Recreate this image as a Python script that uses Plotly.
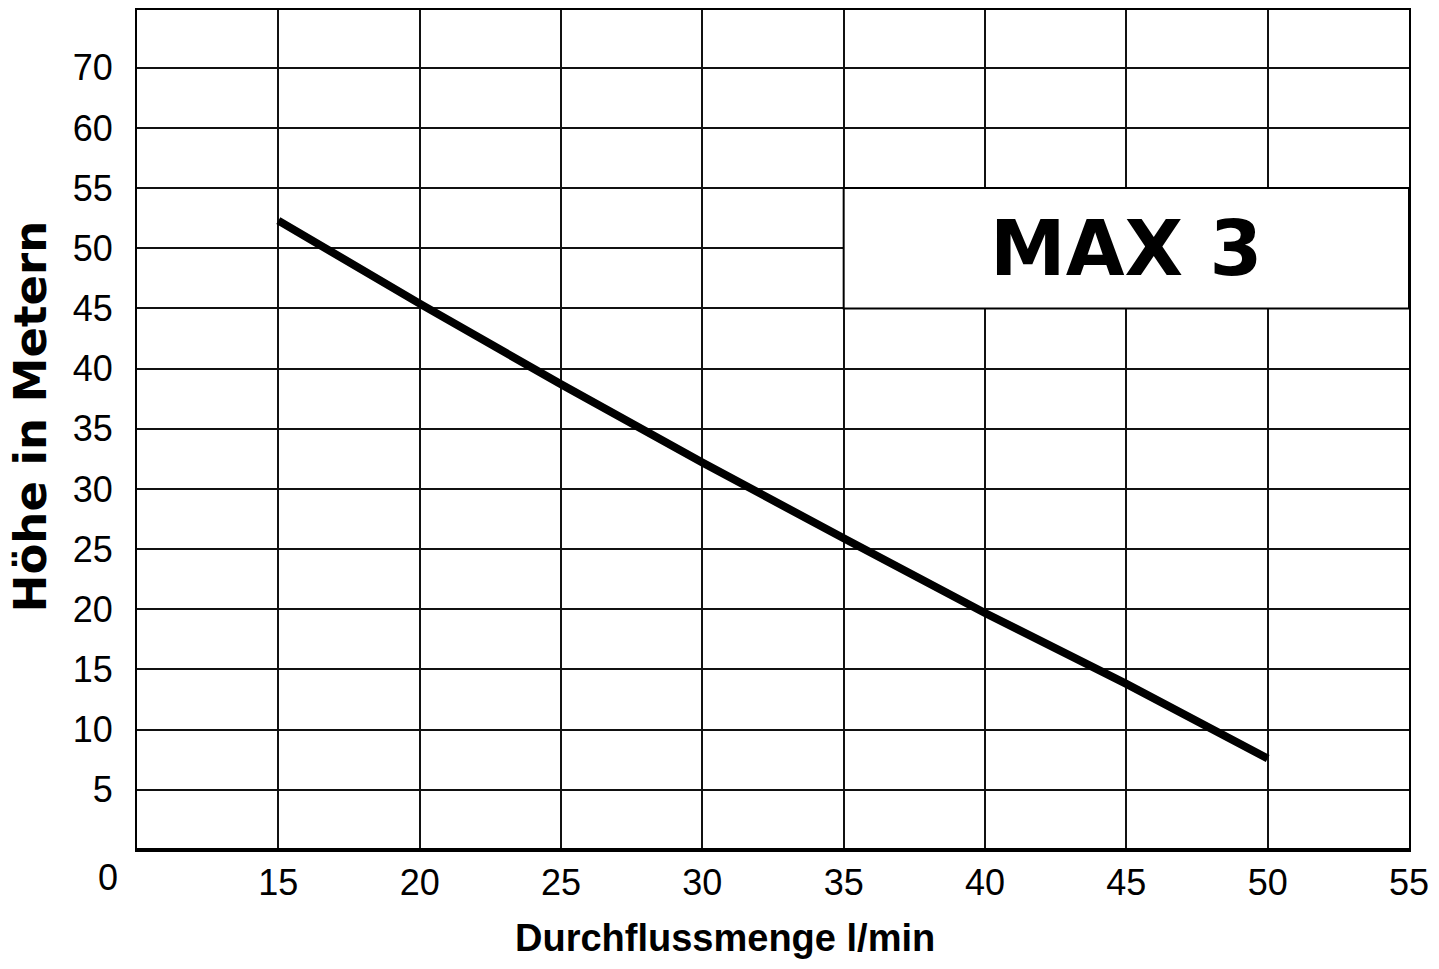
import plotly.graph_objects as go

# Data
flow_lpm = [15, 20, 25, 30, 35, 40, 45, 50]
head_m = [52.3, 45.4, 38.7, 32.2, 25.9, 19.7, 13.8, 7.6]

x_tick_vals = [15, 20, 25, 30, 35, 40, 45, 50, 55]
x_tick_text = ["15", "20", "25", "30", "35", "40", "45", "50", "55"]
y_tick_vals = [5, 10, 15, 20, 25, 30, 35, 40, 45, 50, 55, 60, 65]
y_tick_text = ["5", "10", "15", "20", "25", "30", "35", "40", "45", "50", "55", "60", "70"]

model_label = "MAX 3"
x_title = "Durchflussmenge l/min"
y_title = "Höhe in Metern"
origin_label = "0"

# label box extent (data units)
box_x = [35, 55]
box_y = [45, 55]

fig = go.Figure()
fig.add_trace(go.Scatter(
    x=flow_lpm, y=head_m, mode="lines",
    line=dict(color="black", width=8),
    hoverinfo="x+y", showlegend=False,
))

tick_font = dict(family="Liberation Sans, Arial, sans-serif", size=36, color="black")

fig.update_layout(
    width=1431, height=961,
    margin=dict(l=129, r=30, t=0, b=119, pad=0),
    paper_bgcolor="white", plot_bgcolor="white",
    xaxis=dict(
        range=[10, 55], tickmode="array", tickvals=x_tick_vals, ticktext=x_tick_text,
        showgrid=True, gridcolor="#111", gridwidth=2,
        showline=True, linecolor="black", linewidth=2, mirror=True,
        ticks="", ticklabelstandoff=0, tickfont=tick_font, zeroline=False,
    ),
    yaxis=dict(
        range=[0, 69.8], tickmode="array", tickvals=y_tick_vals, ticktext=y_tick_text,
        showgrid=True, gridcolor="#111", gridwidth=2,
        showline=True, linecolor="black", linewidth=2, mirror=True,
        ticks="", ticklabelstandoff=15, tickfont=tick_font, zeroline=False,
    ),
)

# thicker bottom axis line
fig.add_shape(type="line", xref="paper", yref="paper", x0=0, x1=1, y0=0, y1=0,
              line=dict(color="black", width=4), layer="above")

# white label box covering gridlines
fig.add_shape(type="rect", xref="x", yref="y", x0=box_x[0], x1=box_x[1], y0=box_y[0], y1=box_y[1],
              fillcolor="white", line=dict(color="black", width=2), layer="above")

fig.add_annotation(x=sum(box_x) / 2, y=sum(box_y) / 2, xref="x", yref="y",
                   text=model_label, showarrow=False, xanchor="center", yanchor="middle",
                   font=dict(family="DejaVu Sans, sans-serif", size=76, color="black", weight="bold"))

fig.add_annotation(x=-0.084, y=0.5166, xref="paper", yref="paper", text=y_title,
                   textangle=-90, showarrow=False, xanchor="center", yanchor="middle",
                   font=dict(family="DejaVu Sans, sans-serif", size=45, color="black", weight="bold"))

fig.add_annotation(x=0.4623, y=-0.1045, xref="paper", yref="paper", text=x_title,
                   showarrow=False, xanchor="center", yanchor="middle",
                   font=dict(family="Liberation Sans, Arial, sans-serif", size=38, color="black", weight="bold"))

fig.add_annotation(x=10, y=0, xref="x", yref="y", text=origin_label, showarrow=False,
                   xanchor="center", yanchor="middle",
                   xshift=-29, yshift=-27, font=tick_font)

fig.write_html("out.html")
